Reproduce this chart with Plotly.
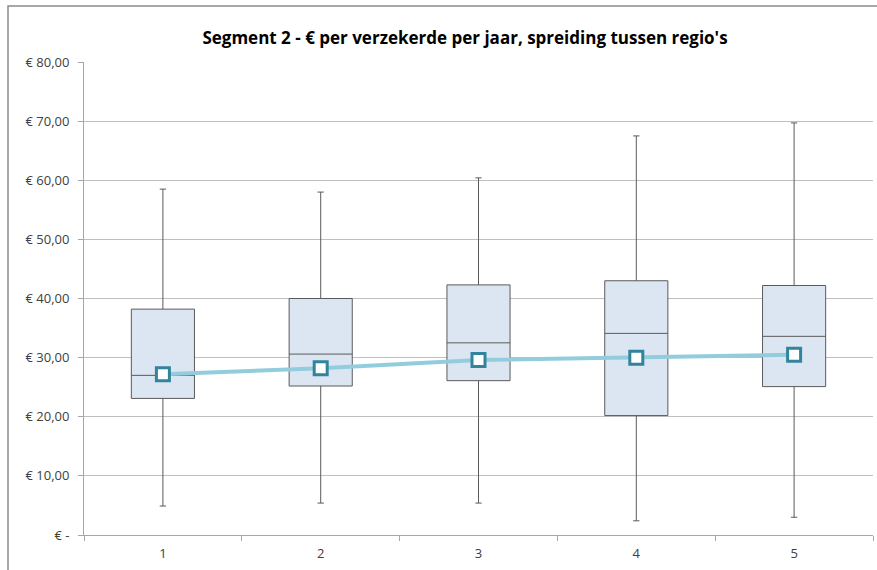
import plotly.graph_objects as go

regions = [1, 2, 3, 4, 5]
whisker_min = [4.9, 5.4, 5.4, 2.4, 3.0]
q1 = [23.1, 25.2, 26.1, 20.2, 25.1]
median = [27.0, 30.6, 32.5, 34.1, 33.6]
q3 = [38.2, 40.0, 42.3, 43.0, 42.2]
whisker_max = [58.5, 58.0, 60.4, 67.5, 69.7]
mean = [27.2, 28.2, 29.6, 30.0, 30.5]

y_ticks = [0, 10, 20, 30, 40, 50, 60, 70, 80]
y_ticktext = ["€ -", "€ 10,00", "€ 20,00", "€ 30,00", "€ 40,00",
              "€ 50,00", "€ 60,00", "€ 70,00", "€ 80,00"]

title_text = "Segment 2 - € per verzekerde per jaar, spreiding tussen regio's"

fig = go.Figure()
fig.add_trace(go.Box(
    x=regions, q1=q1, median=median, q3=q3,
    lowerfence=whisker_min, upperfence=whisker_max,
    width=0.4, whiskerwidth=0.1,
    fillcolor="#dce6f2",
    line=dict(color="#5a5a5a", width=1),
    boxpoints=False, hoverinfo="skip", showlegend=False,
))
fig.add_trace(go.Scatter(
    x=regions, y=mean, mode="lines+markers",
    line=dict(color="#93cddd", width=4),
    marker=dict(symbol="square", size=13, color="white",
                line=dict(color="#31849b", width=3)),
    showlegend=False,
))

W, H = 877, 570
ml, mr, mt, mb = 84, 4, 62, 35
pw = W - ml - mr
ph = H - mt - mb

def px_x(p):
    return (p - ml) / pw

def px_y(p):
    return (H - mb - p) / ph

fig.add_shape(type="rect", xref="paper", yref="paper",
              x0=px_x(8), x1=px_x(W + 20), y0=px_y(H + 20), y1=px_y(6),
              line=dict(color="#8c8c8c", width=1.5), fillcolor="rgba(0,0,0,0)",
              layer="above")

fig.update_layout(
    width=W, height=H,
    margin=dict(l=ml, r=mr, t=mt, b=mb),
    paper_bgcolor="white", plot_bgcolor="white",
    font=dict(family="Open Sans", color="#404040", size=13),
    title=dict(text=title_text, x=465 / W, xanchor="center",
               y=1 - 38 / H, yanchor="middle",
               font=dict(family="Open Sans", size=17, color="black", weight="bold")),
    xaxis=dict(range=[0.5, 5.5], tickvals=regions, ticktext=[str(r) for r in regions],
               ticks="", showgrid=False, showline=True, linecolor="#a6a6a6",
               linewidth=1, zeroline=False, ticklabelstandoff=6,
               minor=dict(tick0=0.5, dtick=1, ticks="outside", ticklen=5,
                          tickcolor="#a6a6a6", showgrid=False)),
    yaxis=dict(range=[0, 80], tickvals=y_ticks, ticktext=y_ticktext,
               ticks="outside", ticklen=5, tickcolor="#a6a6a6",
               ticklabelstandoff=6,
               showgrid=True, gridcolor="#bfbfbf", gridwidth=1,
               showline=True, linecolor="#a6a6a6", linewidth=1, zeroline=False),
)

fig.write_html("out.html",
               config={"displayModeBar": False},
               post_script="document.body.style.margin='0';document.body.style.overflow='hidden';")
